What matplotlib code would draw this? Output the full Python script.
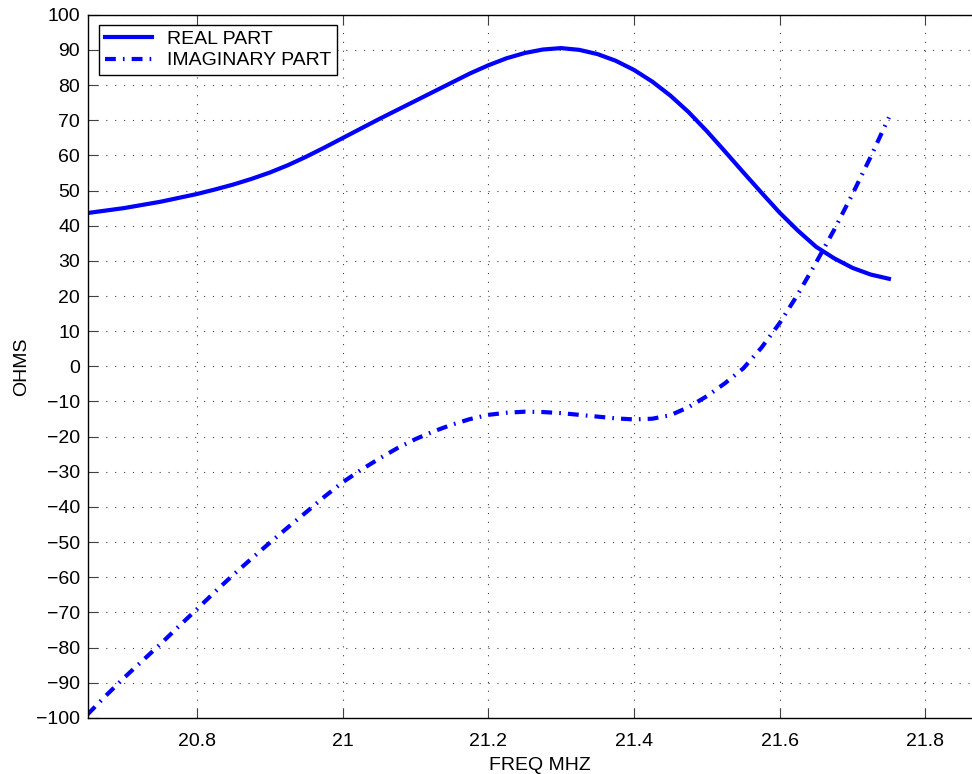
import matplotlib
matplotlib.use("Agg")
import matplotlib.pyplot as plt

# frequency points (MHz), every 0.025 MHz
freq = [20.650, 20.675, 20.700, 20.725, 20.750, 20.775, 20.800, 20.825, 20.850,
        20.875, 20.900, 20.925, 20.950, 20.975, 21.000, 21.025, 21.050, 21.075,
        21.100, 21.125, 21.150, 21.175, 21.200, 21.225, 21.250, 21.275, 21.300,
        21.325, 21.350, 21.375, 21.400, 21.425, 21.450, 21.475, 21.500, 21.525,
        21.550, 21.575, 21.600, 21.625, 21.650, 21.675, 21.700, 21.725, 21.750]

real_part = [43.6, 44.3, 45.0, 45.9, 46.8, 47.9, 49.0, 50.3, 51.7,
             53.3, 55.1, 57.2, 59.6, 62.2, 64.9, 67.6, 70.3, 72.9,
             75.5, 78.1, 80.7, 83.3, 85.6, 87.6, 89.1, 90.1, 90.5,
             90.0, 88.8, 86.9, 84.3, 81.0, 77.0, 72.3, 66.9, 61.1,
             55.2, 49.4, 43.7, 38.6, 34.0, 30.7, 28.0, 26.1, 24.9]

imag_part = [-99.0, -93.7, -88.6, -83.8, -79.0, -74.0, -69.1, -64.1, -59.3,
             -54.7, -50.2, -45.8, -41.5, -37.1, -33.0, -29.5, -26.3, -23.3,
             -20.7, -18.5, -16.6, -15.0, -13.8, -13.2, -12.9, -13.0, -13.3,
             -13.8, -14.3, -14.8, -15.1, -14.9, -13.9, -11.6, -8.5, -4.8,
             -0.6, 5.3, 12.3, 20.5, 29.5, 38.9, 49.0, 59.6, 70.8]

xticks = [20.8, 21.0, 21.2, 21.4, 21.6, 21.8]
xticklabels = ["20.8", "21", "21.2", "21.4", "21.6", "21.8"]
yticks = list(range(-100, 101, 10))


def main():
    plt.rcParams['font.family'] = ['Liberation Sans', 'DejaVu Sans']
    plt.rcParams['axes.unicode_minus'] = True

    fig = plt.figure(figsize=(9.72, 7.74), dpi=100)
    # axes run past the right edge of the picture, like the cropped original
    ax = fig.add_axes([0.0908, 0.0724, 0.9298, 0.9086])

    ax.plot(freq, real_part, color='#0000ff', lw=3, label='REAL PART',
            solid_joinstyle='round')
    ax.plot(freq, imag_part, color='#0000ff', lw=3,
            linestyle=(0, (2.6, 1.7, 0.4, 1.7)), label='IMAGINARY PART')

    ax.set_xlim(20.651, 21.8915)
    ax.set_ylim(-100, 100)
    ax.set_xticks(xticks)
    ax.set_xticklabels(xticklabels)
    ax.set_yticks(yticks)

    ax.tick_params(direction='in', length=7, width=0.8, labelsize=14,
                   top=True, right=True, colors='#404040',
                   labelcolor='black')
    ax.tick_params(axis='x', pad=11)
    ax.tick_params(axis='y', pad=6)
    for s in ax.spines.values():
        s.set_linewidth(1.0)
    ax.grid(True, color='0.25', linestyle=(0, (1, 7)), lw=0.8)

    ax.set_xlabel("FREQ MHZ", fontsize=14, labelpad=5)
    ax.set_ylabel("OHMS", fontsize=14, labelpad=4)

    leg = ax.legend(loc='upper left', bbox_to_anchor=(0.0122, 0.986),
                    fontsize=14, fancybox=False, framealpha=1,
                    edgecolor='black', borderpad=0.3, labelspacing=0.2,
                    handlelength=2.4, handletextpad=0.8, borderaxespad=0)
    leg.get_frame().set_linewidth(1.0)

    fig.savefig("out.png", dpi=100)


if __name__ == "__main__":
    main()
